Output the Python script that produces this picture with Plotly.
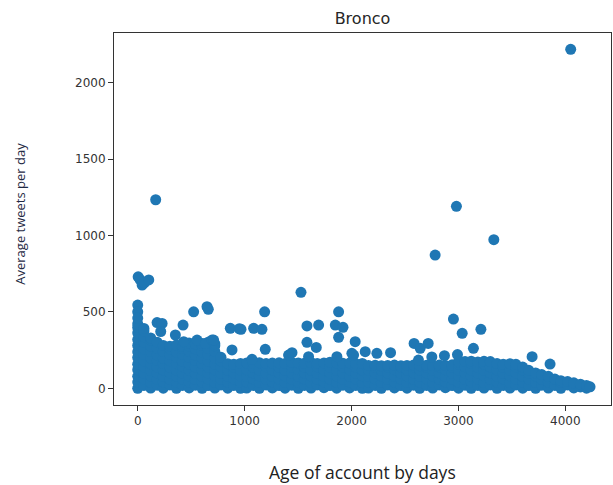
import plotly.graph_objects as go

# Account age (days) vs. average tweets per day, grouped by age band.
# Each band lists column positions (days) and the rates observed in that column.

new_days = [0, 58, 121, 182]
new_rates = [
    [0, 41, 79, 122, 158, 201, 238, 281, 319, 362, 398, 421],
    [19, 62, 98, 141, 179, 222, 259, 301, 338, 376, 392],
    [2, 39, 82, 118, 161, 199, 242, 278, 318, 330],
    [21, 58, 101, 139, 182, 219, 262, 302],
]

early_days = [239, 301, 362, 418, 481, 539, 602, 658, 721, 779, 842, 899, 961]
early_rates = [
    [1, 42, 78, 121, 162, 198, 241, 281],
    [22, 59, 102, 138, 181, 222, 258, 276],
    [0, 39, 81, 119, 161, 202, 239, 283],
    [19, 61, 99, 142, 178, 221, 262, 274],
    [3, 41, 82, 118, 159, 201, 242, 278, 296],
    [21, 58, 98, 141, 182, 219, 258, 291],
    [0, 42, 79, 121, 162, 198, 239, 281, 294],
    [18, 62, 101, 139, 178, 222, 261, 301],
    [2, 38, 81, 122, 158, 199, 242, 279, 292],
    [22, 59, 98, 141, 179, 203],
    [1, 41, 79, 118, 161],
    [19, 62, 101, 139, 158],
    [0, 39, 82, 121, 163],
]

middle_days = [1019, 1081, 1138, 1201, 1259, 1322, 1378, 1441, 1502, 1559,
               1621, 1679, 1742, 1798, 1861, 1919, 1982, 2039, 2101]
middle_rates = [
    [2, 41, 79, 122, 166],
    [19, 62, 101, 139, 163],
    [0, 38, 81, 119, 168],
    [22, 59, 98, 142, 162],
    [3, 42, 78, 121, 165],
    [18, 61, 102, 138, 167],
    [1, 39, 82, 118, 163],
    [21, 58, 99, 141, 170],
    [0, 41, 79, 122, 166],
    [19, 62, 101, 139, 164],
    [2, 38, 81, 119, 169],
    [22, 59, 98, 142, 163],
    [4, 42, 78, 121, 166],
    [18, 61, 102, 138, 171],
    [1, 39, 82, 118, 167],
    [21, 58, 99, 141, 164],
    [3, 41, 79, 122, 165],
    [19, 62, 101, 139, 162],
    [0, 38, 81, 119, 163],
]

late_days = [2158, 2221, 2279, 2338, 2401, 2462, 2519, 2581, 2638, 2702,
             2759, 2821, 2878, 2941, 3001, 3062, 3119, 3181, 3239, 3298]
late_rates = [
    [2, 41, 79, 121, 149],
    [19, 62, 99, 138, 151],
    [0, 38, 82, 118, 147],
    [22, 59, 101, 141, 150],
    [3, 42, 78, 122, 152],
    [18, 61, 98, 139, 148],
    [1, 39, 81, 119, 150],
    [21, 58, 102, 142, 153],
    [0, 41, 79, 121, 148],
    [19, 62, 99, 138, 151],
    [2, 38, 82, 118, 149],
    [22, 59, 101, 141, 152],
    [4, 42, 78, 122, 150],
    [18, 61, 98, 139, 154],
    [1, 39, 81, 119, 158, 174],
    [21, 58, 102, 142, 176],
    [0, 41, 79, 121, 162, 178],
    [19, 62, 99, 138, 173],
    [2, 38, 82, 118, 159, 177],
    [22, 59, 101, 141, 175],
]

oldest_days = [3361, 3419, 3482, 3538, 3601, 3658, 3722, 3779, 3841, 3902,
               3958, 4021, 4079, 4141, 4198, 4231]
oldest_rates = [
    [0, 41, 79, 121, 162],
    [19, 62, 99, 138, 158],
    [2, 38, 82, 118, 161],
    [22, 59, 101, 141, 157],
    [1, 42, 78, 121, 139],
    [18, 61, 98, 118],
    [0, 39, 81, 101],
    [21, 58, 90],
    [2, 41, 79],
    [19, 61],
    [0, 38, 50],
    [22, 44],
    [3, 36],
    [9, 27],
    [1, 19],
    [10],
]

# Accounts well above the bulk of the distribution
outlier_days = [4050, 168, 2981, 3331, 2782, 1527, 4, 22, 41, 62, 103, 0, 0, 0,
                181, 228, 215, 424, 352, 430, 523, 648, 660, 555, 633, 695, 710,
                866, 950, 966, 882, 1187, 1084, 1162, 1069, 1193, 1411, 1443,
                1583, 1583, 1598, 1670, 1692, 1848, 1863, 1879, 1879, 1920,
                2003, 2019, 2034, 2128, 2237, 2365, 2585, 2626, 2642, 2717,
                2751, 2869, 2953, 2991, 3035, 3140, 3210, 3689, 3857]
outlier_rates = [2218, 1234, 1191, 973, 872, 628, 730, 712, 676, 690, 709, 545, 501, 460,
                 430, 425, 372, 414, 349, 305, 501, 534, 517, 316, 294, 316, 316,
                 393, 390, 386, 251, 501, 393, 386, 190, 255, 218, 233,
                 301, 408, 207, 268, 414, 414, 207, 334, 501, 399,
                 229, 218, 305, 240, 229, 233, 294, 185, 262, 294,
                 205, 214, 453, 221, 360, 262, 386, 207, 159]

x_ticks = [0, 1000, 2000, 3000, 4000]
y_ticks = [0, 500, 1000, 1500, 2000]

days, rates = [], []
for cols, levels in [(new_days, new_rates), (early_days, early_rates),
                     (middle_days, middle_rates), (late_days, late_rates),
                     (oldest_days, oldest_rates)]:
    for d, col in zip(cols, levels):
        for r in col:
            days.append(d)
            rates.append(r)
days += outlier_days
rates += outlier_rates

fig = go.Figure(
    go.Scatter(
        x=days, y=rates, mode="markers",
        marker=dict(color="#1f77b4", size=11, line=dict(width=0)),
        hoverinfo="skip",
    )
)

axis_common = dict(
    showgrid=False, zeroline=False, showline=True, mirror=True,
    linecolor="#333333", linewidth=1, ticks="outside", ticklen=5,
    tickwidth=1, tickcolor="#333333",
    tickfont=dict(family="DejaVu Sans", size=12, color="#333333"),
)

fig.update_layout(
    width=613, height=485,
    margin=dict(l=114, r=2, t=33, b=80),
    paper_bgcolor="white", plot_bgcolor="white",
    showlegend=False,
    title=dict(text="Bronco", x=0.5, xref="paper", y=1 - 18 / 485,
               yref="container", yanchor="middle", xanchor="center",
               font=dict(family="DejaVu Sans", size=16, color="#262626")),
    xaxis=dict(range=[-222, 4427], tickvals=x_ticks, **axis_common),
    yaxis=dict(range=[-109, 2325], tickvals=y_ticks, **axis_common),
    annotations=[
        dict(text="Age of account by days", xref="paper", yref="paper",
             x=0.499, y=-0.180, xanchor="center", yanchor="middle",
             showarrow=False,
             font=dict(family="Open Sans", size=17.5, color="#222222")),
        dict(text="Average tweets per day", xref="paper", yref="paper",
             x=-0.188, y=0.513, xanchor="center", yanchor="middle",
             textangle=-90, showarrow=False,
             font=dict(family="Open Sans", size=13, color="#1f2a44")),
    ],
)

fig.write_html("out.html")
